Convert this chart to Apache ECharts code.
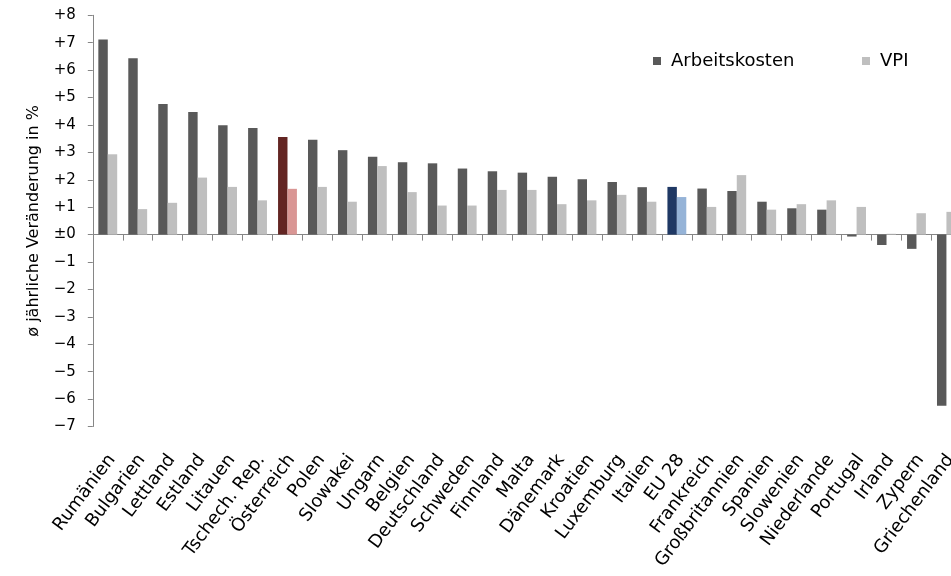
<!DOCTYPE html>
<html>
<head>
<meta charset="utf-8">
<script src="https://cdn.jsdelivr.net/npm/echarts@6/dist/echarts.min.js"></script>
<style>html,body{margin:0;padding:0;background:#fff;overflow:hidden}#c{width:951px;height:576px}</style>
</head>
<body>
<div id="c"></div>
<script>
const categories = ["Rumänien","Bulgarien","Lettland","Estland","Litauen","Tschech. Rep.","Österreich","Polen","Slowakei","Ungarn","Belgien","Deutschland","Schweden","Finnland","Malta","Dänemark","Kroatien","Luxemburg","Italien","EU 28","Frankreich","Großbritannien","Spanien","Slowenien","Niederlande","Portugal","Irland","Zypern","Griechenland"];
const arbeitskosten = [7.12,6.43,4.76,4.47,3.99,3.89,3.56,3.46,3.08,2.84,2.64,2.60,2.41,2.31,2.26,2.11,2.02,1.92,1.73,1.74,1.68,1.59,1.20,0.96,0.91,-0.07,-0.38,-0.52,-6.24];
const vpi = [2.93,0.93,1.16,2.08,1.74,1.25,1.67,1.74,1.20,2.50,1.55,1.06,1.06,1.63,1.63,1.11,1.25,1.45,1.20,1.37,1.01,2.17,0.91,1.11,1.25,1.01,0.03,0.78,0.83];
const yTicks = {min:-7, max:8, interval:1};
const highlight = {"Österreich":["#632523","#d99694"], "EU 28":["#1f3864","#95b3d7"]};

const FONT = "DejaVu Sans";
const darkData = arbeitskosten.map((v,i)=> highlight[categories[i]] ? {value:v, itemStyle:{color:highlight[categories[i]][0]}} : v);
const lightData = vpi.map((v,i)=> highlight[categories[i]] ? {value:v, itemStyle:{color:highlight[categories[i]][1]}} : v);

const GL = 92.8, GW = 868.6, GT = 15.3, GH = 411.2, LABEL_SHIFT = 4;
const legendText = {fontFamily:FONT, fontSize:18, color:'#000', padding:[0,0,0,5]};
const chart = echarts.init(document.getElementById('c'), null, {renderer:'canvas'});
chart.setOption({
  animation:false,
  backgroundColor:'#fff',
  textStyle:{fontFamily:FONT},
  legend:[
    {left:648, top:47, itemWidth:8, itemHeight:8, icon:'rect', textStyle:legendText, data:['Arbeitskosten']},
    {left:857, top:47, itemWidth:8, itemHeight:8, icon:'rect', textStyle:legendText, data:['VPI']}
  ],
  grid:[
    {left:GL, width:GW, top:GT, height:GH, containLabel:false, outerBoundsMode:'none'},
    {left:GL+LABEL_SHIFT, width:GW, top:GT, height:GH, containLabel:false, outerBoundsMode:'none'}
  ],
  xAxis:[{
    type:'category', gridIndex:0, data:categories, boundaryGap:true,
    axisLine:{onZero:true, lineStyle:{color:'#868686', width:1}},
    axisTick:{show:true, length:6, interval:0, alignWithLabel:false, lineStyle:{color:'#868686'}},
    axisLabel:{show:false}, splitLine:{show:false}
  },{
    type:'category', gridIndex:1, data:categories, position:'bottom', boundaryGap:true,
    axisLine:{show:false, onZero:false}, axisTick:{show:false},
    axisLabel:{show:true, rotate:53, margin:30, interval:0, fontFamily:FONT, fontSize:18, color:'#000'},
    splitLine:{show:false}
  }],
  yAxis:[{
    type:'value', gridIndex:0, min:yTicks.min, max:yTicks.max, interval:yTicks.interval,
    name:'ø jährliche Veränderung in %', nameLocation:'middle', nameGap:51, nameRotate:90,
    nameTextStyle:{fontFamily:FONT, fontSize:16, color:'#000'},
    axisLine:{show:true, lineStyle:{color:'#868686'}},
    axisTick:{show:true, length:5, lineStyle:{color:'#868686'}},
    splitLine:{show:false},
    axisLabel:{fontFamily:FONT, fontSize:15, color:'#000', margin:17,
      formatter:v=> v>0 ? '+'+v : (v===0 ? '±0' : '\u2212'+Math.abs(v))}
  },{
    type:'value', gridIndex:1, min:yTicks.min, max:yTicks.max, show:false
  }],
  series:[
    {name:'Arbeitskosten', type:'bar', xAxisIndex:0, yAxisIndex:0, data:darkData, itemStyle:{color:'#595959'}, barGap:'0%', barCategoryGap:'37%'},
    {name:'VPI', type:'bar', xAxisIndex:0, yAxisIndex:0, data:lightData, itemStyle:{color:'#bfbfbf'}, barGap:'0%', barCategoryGap:'37%'}
  ]
});
</script>
</body>
</html>
